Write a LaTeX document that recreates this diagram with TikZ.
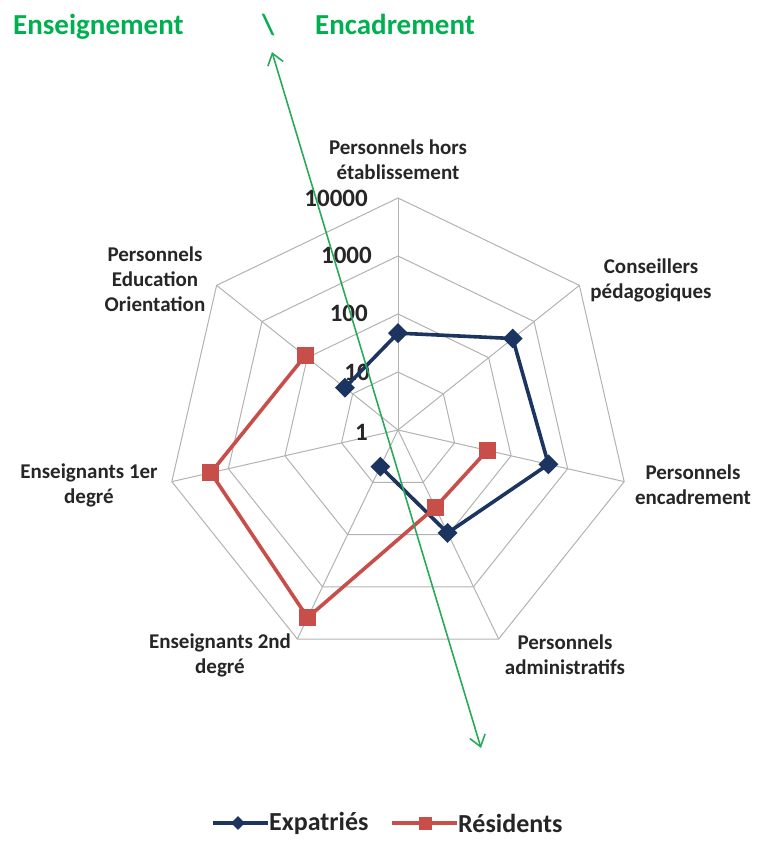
\documentclass[tikz,border=0pt]{standalone}
\usepackage{fontspec}
\setmainfont{Carlito}
\usetikzlibrary{arrows.meta,shapes.geometric}

\definecolor{expat}{RGB}{28,52,96}
\definecolor{resid}{RGB}{200,78,74}
\definecolor{gris}{RGB}{178,178,178}
\definecolor{texte}{RGB}{38,38,38}
\definecolor{vert}{RGB}{0,176,80}
\definecolor{vertfleche}{RGB}{40,170,90}

\begin{document}
\begin{tikzpicture}[x=1pt, y=1pt,
    grille/.style={draw=gris, line width=1pt},
    lab/.style={font=\bfseries\fontsize{21}{25}\selectfont, text=texte, align=center},
    echelle/.style={font=\bfseries\fontsize{25}{25}\selectfont, text=texte, anchor=east, inner sep=0pt},
    titre/.style={font=\bfseries\fontsize{29}{30}\selectfont, text=vert, anchor=base west, inner sep=0pt},
    losange/.style={diamond, fill=expat, inner sep=0pt, minimum size=20pt},
    carre/.style={rectangle, fill=resid, inner sep=0pt, minimum size=17pt},
    serie/.style={line width=3.6pt, line join=round}]
  \useasboundingbox (-398,-412) rectangle (359,430);

  % grille (echelle log, 58pt par decade)
  \foreach \r in {58,116,174,232}
    \draw[grille] (90:\r) \foreach \k in {1,...,6} { -- ({90-\k*360/7}:\r) } -- cycle;
  \foreach \k in {0,...,6}
    \draw[grille] (0,0) -- ({90-\k*360/7}:232);

  \node[echelle] (v4) at (-30,232) {10000};
  \node[echelle] (v3) at (-26,175) {1000};
  \node[echelle] (v2) at (-30,117) {100};
  \node[echelle] (v1) at (-28,58) {10};
  \node[echelle] (v0) at (-30,-2) {1};

  % axes
  \node[lab] (hors) at (0,270) {Personnels hors\\établissement};
  \node[lab] (cons) at (253,150) {Conseillers\\pédagogiques};
  \node[lab] (encad) at (295,-55) {Personnels\\encadrement};
  \node[lab] (admin) at (167,-225) {Personnels\\administratifs};
  \node[lab] (ens2) at (-178,-225) {Enseignants 2nd\\degré};
  \node[lab] (ens1) at (-309,-55) {Enseignants 1er\\degré};
  \node[lab] (peo) at (-243,151) {Personnels\\Education\\Orientation};

  % donnees
  \foreach \k/\v in {0/1.67, 1/2.53, 2/2.66, 3/1.97, 4/0.70, 6/1.17}
    \coordinate (e\k) at ({90-\k*360/7}:{\v*58});
  \foreach \k/\v in {2/1.58, 3/1.48, 4/3.59, 5/3.31, 6/2.05}
    \coordinate (r\k) at ({90-\k*360/7}:{\v*58});

  \draw[serie, expat] (e6) -- (e0) -- (e1) -- (e2) -- (e3) -- (e4);
  \foreach \k in {0,1,2,3,4,6}
    \node[losange] at (e\k) {};
  \draw[serie, resid] (r2) -- (r3) -- (r4) -- (r5) -- (r6);
  \foreach \k in {2,...,6}
    \node[carre] at (r\k) {};

  % legende
  \coordinate (lb1) at (-185,-393);
  \coordinate (lb2) at (-130,-393);
  \coordinate (lr1) at (-6,-393);
  \coordinate (lr2) at (59,-393);
  \draw[serie, expat] (lb1) -- (lb2);
  \node[losange, minimum size=14pt] (lbm) at (-160,-393) {};
  \node[lab, font=\bfseries\fontsize{26}{26}\selectfont, anchor=west, inner sep=1pt] (lbt) at (lb2) {Expatriés};
  \draw[serie, resid] (lr1) -- (lr2);
  \node[carre, minimum size=13pt] (lrm) at (27,-393) {};
  \node[lab, font=\bfseries\fontsize{26}{26}\selectfont, anchor=west, inner sep=1pt] (lrt) at (lr2) {Résidents};

  % titre et fleche
  \node[titre] (ens) at (-385,395) {Enseignement};
  \node[titre] (sep) at (-136,395) {\textbackslash};
  \node[titre] (enc) at (-83,395) {Encadrement};

  \coordinate (haut) at (-126,378);
  \coordinate (bas) at (83,-318);
  \draw[vertfleche, line width=1.6pt, {Straight Barb[length=11pt,width=16pt]}-{Straight Barb[length=11pt,width=16pt]}] (haut) -- (bas);
\end{tikzpicture}
\end{document}
